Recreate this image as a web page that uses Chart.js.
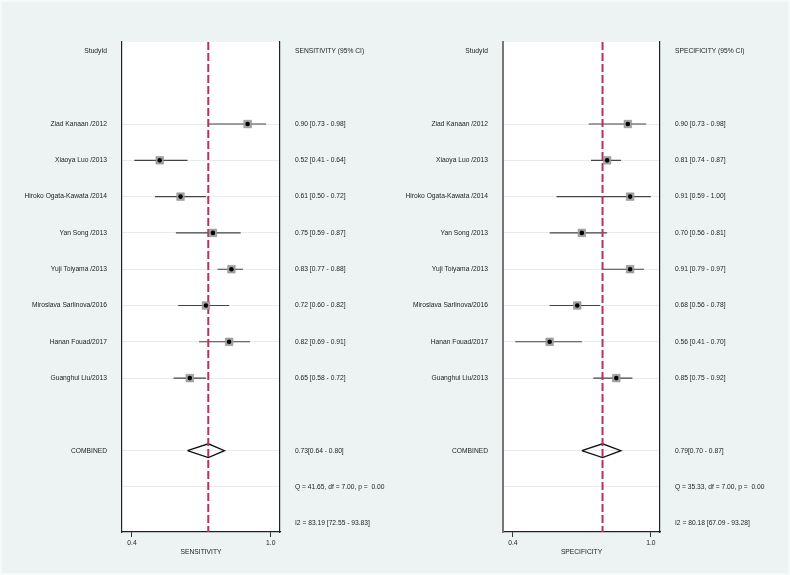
<!DOCTYPE html>
<html>
<head>
<meta charset="utf-8">
<script src="https://cdn.jsdelivr.net/npm/chart.js@4.4.1/dist/chart.umd.min.js"></script>
<style>
  html, body { margin: 0; padding: 0; }
  #wrap {
    position: relative;
    width: 790px;
    height: 575px;
    background: #edf3f3;
    box-shadow: inset 0 0 0 2px #f6f9f9;
  }
  canvas { position: absolute; top: 0; }
</style>
</head>
<body>
<div id="wrap">
  <canvas id="sensChart" width="395" height="575" style="left:0"></canvas>
  <canvas id="specChart" width="395" height="575" style="left:395px"></canvas>
</div>
<script>
// studies, top to bottom
const studies = [
  'Ziad Kanaan /2012',
  'Xiaoya Luo /2013',
  'Hiroko Ogata-Kawata /2014',
  'Yan Song /2013',
  'Yuji Toiyama /2013',
  'Miroslava Sarlinova/2016',
  'Hanan Fouad/2017',
  'Guanghui Liu/2013'
];

const sens   = [0.90, 0.52, 0.61, 0.75, 0.83, 0.72, 0.82, 0.65];
const sensLo = [0.73, 0.41, 0.50, 0.59, 0.77, 0.60, 0.69, 0.58];
const sensHi = [0.98, 0.64, 0.72, 0.87, 0.88, 0.82, 0.91, 0.72];

const spec   = [0.90, 0.81, 0.91, 0.70, 0.91, 0.68, 0.56, 0.85];
const specLo = [0.73, 0.74, 0.59, 0.56, 0.79, 0.56, 0.41, 0.75];
const specHi = [0.98, 0.87, 1.00, 0.81, 0.97, 0.78, 0.70, 0.92];

// pooled estimate, lower, upper
const sensPooled = [0.73, 0.64, 0.80];
const specPooled = [0.79, 0.70, 0.87];

const sensStats = ['Q = 41.65, df = 7.00, p =  0.00', 'I2 = 83.19 [72.55 - 93.83]'];
const specStats = ['Q = 35.33, df = 7.00, p =  0.00', 'I2 = 80.18 [67.09 - 93.28]'];

const xTicks = [0.4, 1.0];

// row layout (0 = header row)
const headerRow = 0;
const firstStudyRow = 2;
const combinedRow = 11;
const qRow = 12;
const i2Row = 13;
const yTop = -0.26;
const yBottom = 13.24;

Chart.defaults.font.family = "'Liberation Sans', Arial, sans-serif";
Chart.defaults.font.size = 6.7;
Chart.defaults.color = '#222';

const whiteArea = {
  id: 'whiteArea',
  beforeDraw(chart) {
    const a = chart.chartArea;
    const ctx = chart.ctx;
    ctx.save();
    ctx.fillStyle = '#fff';
    ctx.fillRect(a.left, a.top, a.right - a.left, a.bottom - a.top);
    ctx.restore();
  }
};

function makeForest(id, opt) {
  const rows = studies.map((s, i) => firstStudyRow + i);

  const leftLabels = {};
  const rightLabels = {};
  leftLabels[headerRow] = 'StudyId';
  rightLabels[headerRow] = opt.header;
  studies.forEach((s, i) => {
    leftLabels[rows[i]] = s;
    rightLabels[rows[i]] = opt.est[i].toFixed(2) + ' [' + opt.lo[i].toFixed(2) + ' - ' + opt.hi[i].toFixed(2) + ']';
  });
  leftLabels[combinedRow] = 'COMBINED';
  rightLabels[combinedRow] = opt.pooled[0].toFixed(2) + '[' + opt.pooled[1].toFixed(2) + ' - ' + opt.pooled[2].toFixed(2) + ']';
  rightLabels[qRow] = opt.stats[0];
  rightLabels[i2Row] = opt.stats[1];

  const tickRows = [headerRow].concat(rows, [combinedRow, qRow, i2Row]);
  const gridRows = rows.concat([combinedRow, qRow]);

  const ciData = [];
  studies.forEach((s, i) => {
    ciData.push({ x: opt.lo[i], y: rows[i] });
    ciData.push({ x: opt.hi[i], y: rows[i] });
    ciData.push({ x: null, y: null });
  });

  const pts = studies.map((s, i) => ({ x: opt.est[i], y: rows[i] }));

  const p = opt.pooled;
  const dh = 0.19;
  const diamond = [
    { x: p[1], y: combinedRow },
    { x: p[0], y: combinedRow - dh },
    { x: p[2], y: combinedRow },
    { x: p[0], y: combinedRow + dh },
    { x: p[1], y: combinedRow }
  ];

  const yBase = {
    type: 'linear',
    reverse: true,
    min: yTop,
    max: yBottom,
    afterBuildTicks: (scale) => { scale.ticks = tickRows.map(v => ({ value: v })); }
  };

  new Chart(document.getElementById(id), {
    type: 'scatter',
    data: {
      datasets: [
        {
          data: pts,
          pointStyle: 'circle',
          pointRadius: 2.3,
          backgroundColor: '#000',
          borderWidth: 0
        },
        {
          data: pts,
          pointStyle: 'rect',
          pointRadius: 5.3,
          backgroundColor: '#a4a4a4',
          borderColor: '#8a8a8a',
          borderWidth: 0.6
        },
        {
          type: 'line',
          data: [{ x: p[0], y: yTop }, { x: p[0], y: yBottom }],
          borderColor: '#bd2f5b',
          borderWidth: 2,
          borderDash: [8, 3],
          pointRadius: 0
        },
        {
          type: 'line',
          data: diamond,
          borderColor: '#111',
          borderWidth: 1.3,
          pointRadius: 0,
          tension: 0
        },
        {
          type: 'line',
          data: ciData,
          borderColor: '#444',
          borderWidth: 1.1,
          pointRadius: 0,
          spanGaps: false
        }
      ]
    },
    options: {
      responsive: false,
      animation: false,
      layout: { padding: { top: 42, left: 0, right: 0, bottom: 0 } },
      plugins: {
        legend: { display: false },
        tooltip: { enabled: false }
      },
      scales: {
        x: {
          type: 'linear',
          position: 'bottom',
          min: 0.357,
          max: 1.04,
          afterBuildTicks: (scale) => { scale.ticks = xTicks.map(v => ({ value: v })); },
          afterFit: (scale) => { scale.height = 43; },
          ticks: {
            callback: (v) => v.toFixed(1),
            padding: 2,
            autoSkip: false,
            maxRotation: 0
          },
          grid: {
            drawOnChartArea: false,
            drawTicks: true,
            tickLength: 5,
            color: '#333'
          },
          border: { display: true, color: '#222', width: 1.2 },
          title: {
            display: true,
            text: opt.axisTitle,
            color: '#222',
            padding: { top: 0, bottom: 19 }
          }
        },
        y: Object.assign({}, yBase, {
          position: 'left',
          afterFit: (scale) => { scale.width = opt.leftWidth; },
          ticks: {
            autoSkip: false,
            padding: 15,
            callback: (v) => leftLabels[v] || ''
          },
          grid: {
            drawTicks: false,
            color: (ctx) => (ctx.tick && gridRows.includes(ctx.tick.value)) ? '#e6edef' : 'rgba(0,0,0,0)',
            lineWidth: 1
          },
          border: { display: true, color: opt.leftBorder, width: opt.leftBorderWidth }
        }),
        y2: Object.assign({}, yBase, {
          position: 'right',
          afterFit: (scale) => { scale.width = opt.rightWidth; },
          ticks: {
            autoSkip: false,
            padding: 15,
            callback: (v) => rightLabels[v] || ''
          },
          grid: { display: false, drawTicks: false },
          border: { display: true, color: '#222', width: 1.2 }
        })
      }
    },
    plugins: [whiteArea]
  });
}

makeForest('sensChart', {
  est: sens, lo: sensLo, hi: sensHi,
  pooled: sensPooled, stats: sensStats,
  header: 'SENSITIVITY (95% CI)',
  axisTitle: 'SENSITIVITY',
  leftWidth: 122, rightWidth: 115,
  leftBorder: '#222', leftBorderWidth: 1.2
});

makeForest('specChart', {
  est: spec, lo: specLo, hi: specHi,
  pooled: specPooled, stats: specStats,
  header: 'SPECIFICITY (95% CI)',
  axisTitle: 'SPECIFICITY',
  leftWidth: 108, rightWidth: 130,
  leftBorder: '#777', leftBorderWidth: 2
});
</script>
</body>
</html>
